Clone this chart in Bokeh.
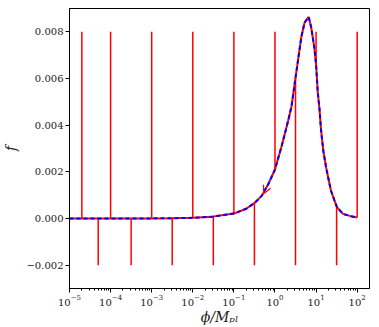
from bokeh.plotting import figure
from bokeh.models import FixedTicker, CustomJSTickFormatter, Arrow, OpenHead, Range1d
from bokeh.embed import file_html
from bokeh.resources import INLINE

# ---- data ----
curve_phi = [1e-5, 1e-4, 1e-3, 3e-3, 1e-2, 3e-2, 0.1, 0.2, 0.33, 0.48, 0.69, 1.0, 1.45,
             2.1, 2.52, 3.03, 3.65, 4.4, 5.26, 6.6, 7.6, 9.1, 10.0, 11.0, 12.1, 13.2,
             15.0, 17.5, 20.0, 23.0, 27.7, 32.0, 45.0, 69.0, 100.0]
curve_f = [0.0, 0.0, 0.000005, 0.00001, 0.00003, 0.00008, 0.00021, 0.00042, 0.00069,
           0.00098, 0.00148, 0.0021, 0.0031, 0.0042, 0.0048, 0.0058, 0.0068, 0.0078,
           0.0084, 0.00864, 0.0082, 0.0073, 0.0066, 0.0054, 0.0047, 0.0038, 0.0029,
           0.0022, 0.0017, 0.0012, 0.0008, 0.0005, 0.0002, 0.0001, 0.00004]

up_x = [2e-5, 1e-4, 1e-3, 1e-2, 1e-1, 1.0, 10.0, 100.0]
up_f = [0.0, 0.0, 0.000005, 0.00003, 0.00021, 0.0021, 0.0066, 0.00004]
up_top = 0.008

down_x = [5e-5, 3.16e-4, 3.16e-3, 3.16e-2, 0.316, 3.16, 31.6]
down_f = [0.0, 0.0, 0.00001, 0.00008, 0.00067, 0.0060, 0.0005]
down_bottom = -0.002

x_ticks = [1e-5, 1e-4, 1e-3, 1e-2, 1e-1, 1.0, 10.0, 100.0]
y_ticks = [-0.002, 0.0, 0.002, 0.004, 0.006, 0.008]
arrow_from, arrow_to = 10, 9  # indices into the curve

minor = [m * d for d in x_ticks for m in range(2, 10)]

p = figure(width=379, height=327, x_axis_type="log",
           x_range=Range1d(1e-5, 10 ** 2.3), y_range=Range1d(-0.003, 0.009),
           output_backend="svg", toolbar_location=None,
           min_border_left=67, min_border_right=10, min_border_top=8, min_border_bottom=39)

p.segment(x0=up_x, y0=up_f, x1=up_x, y1=[up_top] * len(up_x), line_color="red", line_width=1.5)
p.segment(x0=down_x, y0=down_f, x1=down_x, y1=[down_bottom] * len(down_x), line_color="red", line_width=1.5)

p.line(curve_phi, curve_f, line_color="red", line_width=2)
p.line(curve_phi, curve_f, line_color="blue", line_width=2, line_dash="4 3")

p.add_layout(Arrow(end=OpenHead(line_color="red", line_width=1.2, size=8),
                   x_start=curve_phi[arrow_from], y_start=curve_f[arrow_from],
                   x_end=curve_phi[arrow_to] * 1.1, y_end=curve_f[arrow_to] + 0.00008,
                   line_alpha=0))

p.grid.visible = False
p.outline_line_color = "black"
p.outline_line_alpha = 1
p.outline_line_width = 1
p.background_fill_color = "white"
p.border_fill_color = "white"

p.xaxis.ticker = FixedTicker(ticks=x_ticks, minor_ticks=minor)
p.yaxis.ticker = FixedTicker(ticks=y_ticks)
p.yaxis.formatter = CustomJSTickFormatter(code="return tick.toFixed(3).replace('-', '\\u2212');")

for ax in (p.xaxis, p.yaxis):
    ax.axis_line_color = "black"
    ax.major_tick_line_color = "black"
    ax.minor_tick_line_color = "black"
    ax.major_tick_in = 0
    ax.major_tick_out = 4
    ax.minor_tick_in = 0
    ax.minor_tick_out = 2
    ax.major_label_text_font = "DejaVu Serif"
    ax.major_label_text_font_size = "10px"
    ax.major_label_text_color = "#222222"
    ax.axis_label_text_font = "DejaVu Serif"
    ax.axis_label_text_font_style = "italic"
    ax.axis_label_text_color = "#222222"
    ax.axis_label_text_font_size = "14px"

p.yaxis.minor_tick_line_color = None
p.xaxis.major_label_standoff = 2
p.xaxis.axis_label_standoff = 0
p.xaxis.axis_label = "ϕ/Mₚₗ"
p.yaxis.major_label_standoff = 2
p.yaxis.axis_label_standoff = 4
p.yaxis.axis_label = "f"

open("out.html", "w").write(file_html(p, INLINE))
